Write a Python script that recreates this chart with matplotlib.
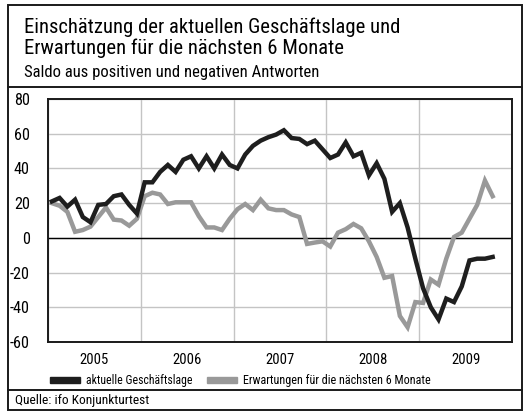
import numpy as np
import matplotlib.pyplot as plt
from matplotlib import font_manager
from matplotlib.patches import Rectangle
from matplotlib.lines import Line2D

# schmale Schrift bevorzugen, falls vorhanden
installed = {f.name for f in font_manager.fontManager.ttflist}
candidates = ['Liberation Sans Narrow', 'DejaVu Sans Condensed', 'Roboto Condensed',
              'Open Sans Condensed', 'Noto Sans Condensed', 'Roboto']
family = next((c for c in candidates if c in installed), 'DejaVu Sans')
plt.rcParams['font.family'] = [family, 'DejaVu Sans']

# Monatswerte Jan 2005 - Okt 2009
years = ["2005", "2006", "2007", "2008", "2009"]
lage = [21, 23, 18, 22, 12, 9, 19, 19.5, 24, 25, 19, 14,
        32, 32, 38, 42, 38, 45, 47, 40, 47, 40, 48, 42,
        40, 48, 53, 56, 58, 59.5, 62, 57.5, 57, 54, 56, 51,
        46, 48, 55, 47, 49, 36, 43, 34, 15, 20, 6, -12,
        -29, -40, -47, -35, -37, -28, -13, -12, -12, -11]
erwartung = [20, 18.5, 15, 3.5, 4.5, 6.5, 12, 17.5, 10.5, 10, 7, 11,
             24, 26, 25, 19.5, 20.5, 20.5, 20.5, 12.5, 6, 6, 4.5, 11,
             16.5, 19.5, 16, 22, 17, 16, 16, 13.5, 12, -3.5, -2.7, -2,
             -5, 3, 5, 8, 5.5, -2, -11, -23, -22, -45, -51.5, -37,
             -37.5, -24, -27, -12, 0.5, 3, 11, 19, 33, 24]
yticks = [-60, -40, -20, 0, 20, 40, 60, 80]

W, H = 529, 416
fig = plt.figure(figsize=(W / 100, H / 100), dpi=100)
renderer = fig.canvas.get_renderer()


def fx(px):
    return px / W


def fy(py):
    return 1 - py / H


def fit_size(s, width_px, size=12):
    # Schriftgroesse so waehlen, dass der Text die Breite aus der Vorlage hat
    t = fig.text(0, 0, s, fontsize=size)
    w = t.get_window_extent(renderer).width
    t.remove()
    return size * width_px / w


def put(px, py, s, width_px, **kw):
    fig.text(fx(px), fy(py), s, fontsize=fit_size(s, width_px),
             ha="left", va="baseline", **kw)


ax = fig.add_axes([fx(48), fy(342), fx(512) - fx(48), fy(99) - fy(342)])

x = np.arange(len(lage)) + 0.5
ax.plot(x, erwartung, color="#999999", lw=3.2, solid_joinstyle="miter", zorder=3)
ax.plot(x, lage, color="#1e1e1e", lw=3.2, solid_joinstyle="miter", zorder=4)

ax.set_xlim(0, 60)
ax.set_ylim(-60, 80)
ax.set_yticks(yticks)
ax.set_yticklabels([str(v) for v in yticks], fontsize=min(fit_size("-60", 20), 14))
ax.set_xticks(np.arange(0, 61, 12))
ax.set_xticklabels([])
ax.set_xticks(np.arange(6, 60, 12), minor=True)
ax.set_xticklabels(years, minor=True, fontsize=min(fit_size("2005", 29), 15))
ax.tick_params(axis="both", which="both", length=0)
ax.tick_params(axis="x", which="minor", pad=8)
ax.tick_params(axis="y", pad=13)
ax.grid(True, which="major", color="#c4c4c4", lw=1)
ax.axhline(0, color="black", lw=1, zorder=2)
for s in ax.spines.values():
    s.set_linewidth(1.4)
    s.set_color("#1a1a1a")

# Rahmen und Trennlinien
fig.add_artist(Rectangle((fx(8), fy(410)), fx(522) - fx(8), fy(5) - fy(410),
                         transform=fig.transFigure, fill=False, lw=1.4,
                         edgecolor="#1a1a1a"))
for py in (87, 390):
    fig.add_artist(Line2D([fx(8), fx(522)], [fy(py), fy(py)],
                          transform=fig.transFigure, lw=1.4, color="#1a1a1a"))

put(24, 33, "Einschätzung der aktuellen Geschäftslage und", 374)
put(24, 54, "Erwartungen für die nächsten 6 Monate", 320)
put(24, 77, "Saldo aus positiven und negativen Antworten", 295)

# Legende
fig.add_artist(Rectangle((fx(50), fy(383)), fx(30), fy(377) - fy(383),
                         transform=fig.transFigure, color="#1e1e1e"))
put(86, 384, "aktuelle Geschäftslage", 106)
fig.add_artist(Rectangle((fx(207), fy(383)), fx(30), fy(377) - fy(383),
                         transform=fig.transFigure, color="#999999"))
put(243, 384, "Erwartungen für die nächsten 6 Monate", 188)

put(15, 404, "Quelle: ifo Konjunkturtest", 134)

fig.savefig("out.png", dpi=100)
